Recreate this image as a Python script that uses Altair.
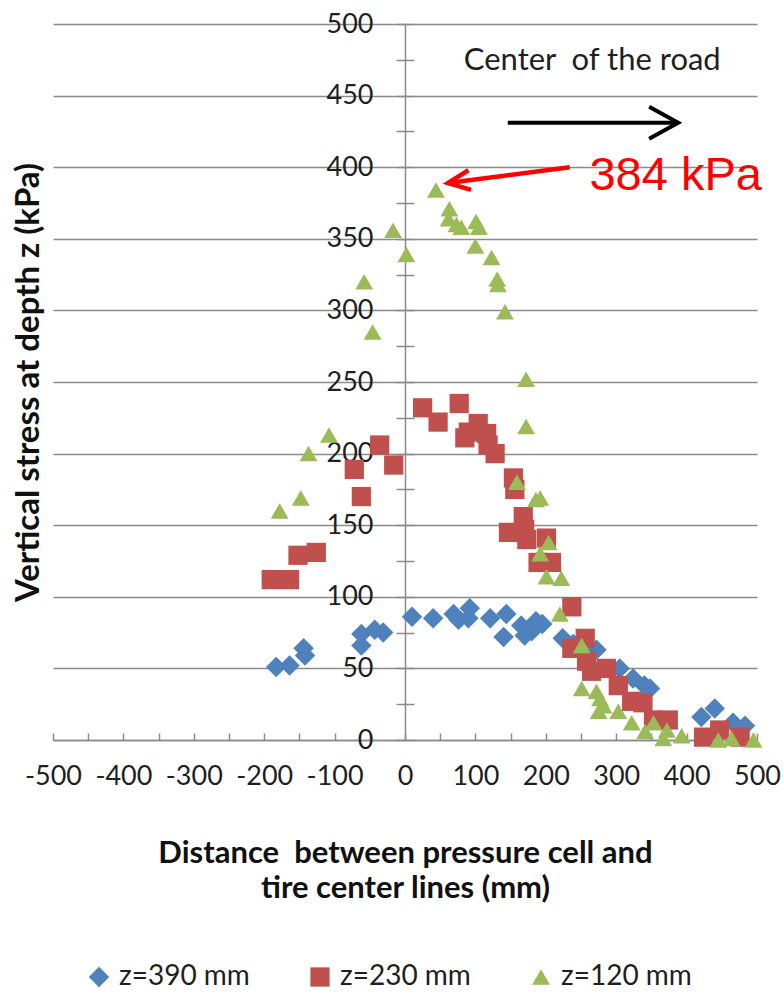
import altair as alt
import pandas as pd

# ---------------- data ----------------
series_names = ["z=390 mm", "z=230 mm", "z=120 mm"]
series_colors = ["#4F81BD", "#C0504D", "#9BBB59"]
series_shapes = ["diamond", "square", "triangle-up"]
series_sizes = [420, 320, 350]

blue_x = [-183, -164, -144, -142, -62, -62, -43, -31, 10, 40, 69, 76, 92, 90,
          121, 144, 140, 165, 170, 180, 186, 195, 224, 239, 272, 305, 324, 340, 348,
          421, 440, 466, 483]
blue_y = [51, 52, 64, 59, 74, 66, 77, 75, 86, 85, 88, 84, 92, 85,
          85, 88, 72, 80, 73, 76, 83, 81, 71, 67, 63, 50, 43, 38, 36,
          16, 22, 12, 10]

red_x = [-190, -164, -152, -126, -72, -62, -36, -16, 25, 47, 77, 85, 90,
         104, 116, 118, 128, 154, 156, 147, 168, 170, 173, 201, 189, 208,
         237, 256, 237, 258, 265, 286, 303, 322, 338, 353, 374, 424, 447, 476]
red_y = [112, 112, 129, 131, 189, 170, 206, 192, 232, 222, 235, 211, 215,
         221, 214, 206, 200, 183, 175, 145, 156, 147, 140, 141, 124, 124,
         93, 71, 64, 55, 48, 50, 38, 27, 26, 14, 14, 2, 7, 2]

green_x = [-178, -148, -137, -108, -58, -46, -17, 2, 44, 63, 62, 73, 80,
           101, 105, 100, 123, 131, 132, 142, 172, 172, 159, 186, 192, 204, 192,
           201, 222, 220, 251, 251, 272, 277, 275, 282, 303, 322, 341, 353, 367,
           372, 393, 445, 464, 495]
green_y = [160, 169, 200, 213, 320, 285, 356, 339, 384, 371, 364, 360, 358,
           362, 358, 345, 337, 322, 318, 299, 252, 219, 180, 168, 169, 138, 130,
           114, 113, 88, 66, 36, 34, 29, 20, 24, 20, 12, 6, 12, 1,
           7, 3, 0, 1, 0]

x_label_values = list(range(-500, 501, 100))
x_tick_values = list(range(-500, 501, 50))
y_grid_values = list(range(0, 501, 50))
y_tick_values = list(range(0, 501, 25))

NBSP = "\u00a0"
x_title = ["Distance" + NBSP + " between pressure cell and", "tire center lines (mm)"]
y_title = "Vertical stress at depth z (kPa)"

# annotations (data coordinates)
note_text = ["Center" + NBSP + " of the road"]
note_x = [266]
note_y = [468]
peak_text = ["384 kPa"]
peak_x = [262]
peak_y = [384]
black_arrow = {"x": [146], "x2": [388], "y": [431]}
red_arrow = {"x": [234], "x2": [61], "y": [400], "y2": [389]}

# ---------------- tables ----------------
rows = []
for name, xs_, ys_ in zip(series_names, [blue_x, red_x, green_x], [blue_y, red_y, green_y]):
    for xv, yv in zip(xs_, ys_):
        rows.append({"x": xv, "y": yv, "series": name})
df = pd.DataFrame(rows)

W, H = 704, 716
FONT = "Lato"
GRID = "#8a8a8a"
TXT = "#1f1f1f"

xs = alt.Scale(domain=[-500, 500], nice=False, zero=False)
ys = alt.Scale(domain=[0, 500], nice=False, zero=False)

legend = alt.Legend(
    orient="none", legendX=32, legendY=939, direction="horizontal", title=None,
    labelFont=FONT, labelFontSize=28, labelColor=TXT, symbolSize=250,
    symbolStrokeWidth=0, labelOffset=6, columnPadding=56, labelLimit=300,
)

points = alt.Chart(df).mark_point(filled=True, opacity=1, strokeWidth=0).encode(
    x=alt.X("x:Q", scale=xs, axis=alt.Axis(
        orient="bottom", values=x_label_values, grid=False, ticks=False,
        domain=True, domainColor=GRID, domainWidth=1.5,
        labelFont=FONT, labelFontSize=27, labelColor=TXT, labelPadding=23,
        labelOverlap=False, labelFlush=False,
        labelExpr="datum.value < 0 ? '-' + toString(-datum.value) : toString(datum.value)",
        title=x_title,
        titleFont=FONT, titleFontSize=31, titleFontWeight="bold", titleColor="#111111",
        titlePadding=49, titleLineHeight=35)),
    y=alt.Y("y:Q", scale=ys, axis=alt.Axis(
        orient="left", offset=-361, values=y_tick_values,
        labelExpr="datum.value % 50 == 0 ? toString(datum.value) : ''",
        grid=False, domain=False, ticks=True, tickSize=18, tickColor=GRID, tickWidth=1.5,
        labelFont=FONT, labelFontSize=27, labelColor=TXT, labelPadding=23,
        title=y_title, titleFont=FONT, titleFontSize=33,
        titleFontWeight="bold", titleColor="#111111", titleX=-386, titleY=358,
        titleAngle=270, titleBaseline="middle", titleAlign="center")),
    color=alt.Color("series:N", scale=alt.Scale(domain=series_names, range=series_colors),
                    sort=series_names, legend=legend),
    shape=alt.Shape("series:N", scale=alt.Scale(domain=series_names, range=series_shapes),
                    sort=series_names, legend=legend),
    size=alt.Size("series:N", scale=alt.Scale(domain=series_names, range=series_sizes),
                  legend=None),
)

note = alt.Chart(pd.DataFrame({"x": note_x, "y": note_y, "t": note_text})).mark_text(
    font=FONT, fontSize=31, color=TXT, align="center", baseline="alphabetic"
).encode(
    x=alt.X("x:Q", scale=xs, axis=alt.Axis(
        orient="top", offset=-716, values=x_tick_values, labels=False, domain=False,
        grid=False, ticks=True, tickSize=7, tickColor=GRID, tickWidth=1.5), title=None),
    y=alt.Y("y:Q", scale=ys, axis=alt.Axis(
        orient="right", offset=-352, values=y_grid_values, labels=False, ticks=False,
        domain=True, domainColor=GRID, domainWidth=1.5,
        grid=True, gridColor=GRID, gridWidth=1.5, gridOpacity=1), title=None),
    text="t:N",
)

peak = alt.Chart(pd.DataFrame({"x": peak_x, "y": peak_y, "t": peak_text})).mark_text(
    font="Liberation Sans", fontSize=47, color="#FF0000", align="left", baseline="alphabetic"
).encode(
    x=alt.X("x:Q", scale=xs, axis=None),
    y=alt.Y("y:Q", scale=ys, axis=None),
    text="t:N",
)

black_line = alt.Chart(pd.DataFrame(black_arrow)).mark_rule(color="black", strokeWidth=4).encode(
    x=alt.X("x:Q", scale=xs, axis=None), x2="x2:Q",
    y=alt.Y("y:Q", scale=ys, axis=None),
)
black_head = alt.Chart(pd.DataFrame(black_arrow)).mark_point(
    shape="M-1,-0.55L0,0L-1,0.55", size=3364, filled=False, color="black",
    strokeWidth=4, opacity=1, strokeJoin="miter"
).encode(
    x=alt.X("x2:Q", scale=xs, axis=None),
    y=alt.Y("y:Q", scale=ys, axis=None),
)

red_line = alt.Chart(pd.DataFrame(red_arrow)).mark_rule(color="#FF0000", strokeWidth=4.5).encode(
    x=alt.X("x:Q", scale=xs, axis=None), x2="x2:Q",
    y=alt.Y("y:Q", scale=ys, axis=None), y2="y2:Q",
)
red_head = alt.Chart(pd.DataFrame(red_arrow)).mark_point(
    shape="M-1,-0.45L0,0L-1,0.45", size=1936, filled=False, color="#FF0000",
    strokeWidth=4.5, opacity=1, angle=172.5, strokeJoin="miter"
).encode(
    x=alt.X("x2:Q", scale=xs, axis=None),
    y=alt.Y("y2:Q", scale=ys, axis=None),
)

chart = alt.layer(points, note, peak, black_line, black_head, red_line, red_head).resolve_axis(
    x="independent", y="independent"
).properties(
    width=W, height=H,
    autosize=alt.AutoSizeParams(type="none"),
    padding={"left": 53, "top": 24, "right": 26, "bottom": 252},
    background="white",
).configure_view(stroke=None)

chart.save("out.html", embed_options={"renderer": "svg", "actions": False})
